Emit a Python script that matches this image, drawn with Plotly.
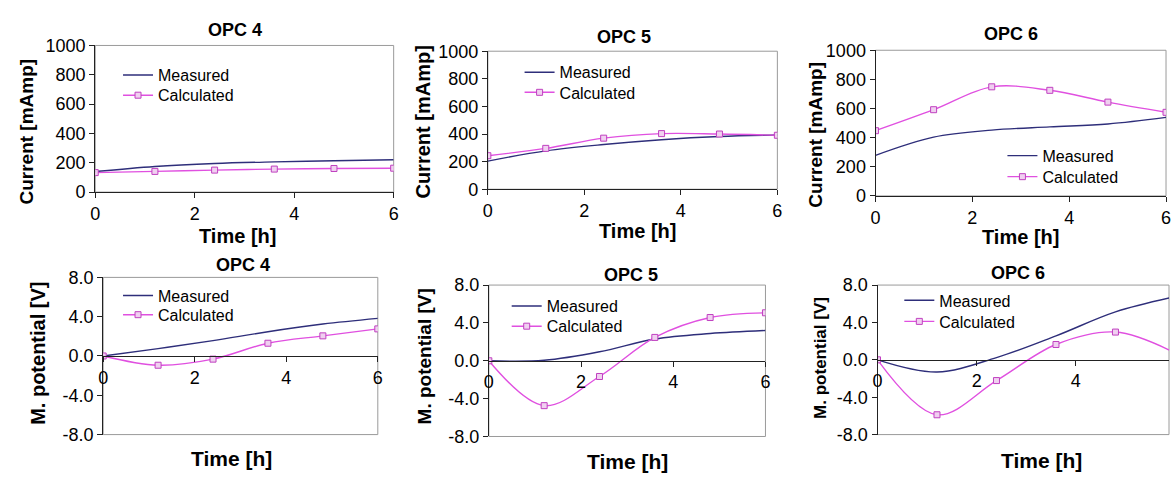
import plotly.graph_objects as go

W, H = 1174, 481

time_h = [0, 1.2, 2.4, 3.6, 4.8, 6]

# Current [mAmp]
opc4_cur_meas = [140, 175, 195, 206, 214, 221]
opc4_cur_calc = [133, 141, 150, 157, 161, 163]
opc5_cur_meas = [204, 278, 324, 359, 382, 393]
opc5_cur_calc = [243, 296, 370, 403, 400, 391]
opc6_cur_meas = [279, 404, 452, 474, 494, 539]
opc6_cur_calc = [448, 592, 749, 725, 644, 574]

# Membrane potential [V]
opc4_pot_meas = [0.0, 0.75, 1.56, 2.47, 3.25, 3.83]
opc4_pot_calc = [0.0, -0.94, -0.32, 1.30, 2.05, 2.76]
opc5_pot_meas = [0.0, 0.05, 0.95, 2.30, 2.88, 3.20]
opc5_pot_calc = [0.0, -4.74, -1.66, 2.47, 4.57, 5.07]
opc6_pot_meas = [0.0, -1.30, 0.24, 2.56, 5.13, 6.75]
opc6_pot_calc = [0.0, -5.88, -2.22, 1.64, 2.97, 0.75]

titles = ["OPC 4", "OPC 5", "OPC 6", "OPC 4", "OPC 5", "OPC 6"]
series_names = ["Measured", "Calculated"]
cur_ticks = [0, 200, 400, 600, 800, 1000]
pot_ticks = [-8, -4, 0, 4, 8]
x_ticks = [0, 2, 4, 6]

MEAS_C = "#2e2e7a"
CALC_C = "#e050e0"
FONT = "Liberation Sans, Arial, sans-serif"


def px(x):
    return x / W


def py(y):
    return 1 - y / H


# panel geometry in page pixels: (x0, x1, ytop, ybottom)
panels = [
    (91, 392, 37, 190),
    (487, 779, 43, 187),
    (878, 1171, 42, 194),
    (99, 376, 279, 443),
    (488, 767, 287, 445),
    (880, 1174, 287, 443),
]
xranges = [[0, 6], [0, 6], [0, 6], [0, 6], [0, 6], [0, (1174 - 880) / 50.0]]

meas = [opc4_cur_meas, opc5_cur_meas, opc6_cur_meas, opc4_pot_meas, opc5_pot_meas, opc6_pot_meas]
calc = [opc4_cur_calc, opc5_cur_calc, opc6_cur_calc, opc4_pot_calc, opc5_pot_calc, opc6_pot_calc]

title_pos = [(232, 21), (624, 28), (1015, 25), (240, 266), (631, 276), (1022, 274)]
xtitle_pos = [(235, 236, 20), (638, 231, 20), (1024, 237, 20), (228, 468, 21), (628, 471, 21), (1045, 470, 21)]
ytitle_pos = [(22, 127, 19), (422, 117, 20), (818, 130, 19), (33, 358, 20), (424, 361, 19), (823, 363, 17)]
# legend: (text start x, measured row y, calculated row y)
legend_pos = [(160, 71, 92), (565, 68, 89), (1052, 155, 177),
              (160, 301, 321), (552, 312, 333), (948, 306, 328)]

fig = go.Figure()
layout = dict(
    width=W, height=H, autosize=False,
    margin=dict(l=0, r=0, t=0, b=0),
    paper_bgcolor="white", plot_bgcolor="white",
    font=dict(family=FONT, size=16, color="black"),
    annotations=[], shapes=[],
)

for i in range(6):
    n = i + 1
    xa = "x" if n == 1 else f"x{n}"
    ya = "y" if n == 1 else f"y{n}"
    lg_m = "legend" if i == 0 else f"legend{2 * i + 1}"
    lg_c = f"legend{2 * i + 2}"
    x0, x1, yt, yb = panels[i]
    fig.add_trace(go.Scatter(
        x=time_h, y=meas[i], name=series_names[0], mode="lines",
        line=dict(color=MEAS_C, width=1.4, shape="spline"),
        xaxis=xa, yaxis=ya, legend=lg_m, showlegend=True,
    ))
    fig.add_trace(go.Scatter(
        x=time_h, y=calc[i], name=series_names[1], mode="lines+markers",
        line=dict(color=CALC_C, width=1.4, shape="spline"),
        marker=dict(symbol="square", size=6, color="#f0d0f0",
                    line=dict(color="#c040c0", width=1)),
        xaxis=xa, yaxis=ya, legend=lg_c, showlegend=True,
    ))
    top_row = i < 3
    xkey = "xaxis" if n == 1 else f"xaxis{n}"
    ykey = "yaxis" if n == 1 else f"yaxis{n}"
    xaxis = dict(
        domain=[px(x0), min(1.0, px(x1))], range=xranges[i],
        tickvals=x_ticks, ticks="outside", ticklen=5, tickcolor="#222",
        showline=True, linecolor="#222", linewidth=1,
        showgrid=False, zeroline=False, fixedrange=True,
        tickfont=dict(family=FONT, size=18, color="black"),
    )
    if top_row:
        xaxis["anchor"] = ya
    else:
        xaxis["anchor"] = "free"
        xaxis["position"] = py((yt + yb) / 2.0)
    yaxis = dict(
        domain=[py(yb), py(yt)], anchor=xa,
        ticks="outside", ticklen=5, tickcolor="#222",
        showline=True, linecolor="#222", linewidth=1,
        showgrid=False, zeroline=False, fixedrange=True,
        tickfont=dict(family=FONT, size=18, color="black"),
    )
    if top_row:
        yaxis.update(range=[0, 1000], tickvals=cur_ticks)
    else:
        yaxis.update(range=[-8, 8], tickvals=pot_ticks,
                     ticktext=[f"{v:.1f}" for v in pot_ticks])
    layout[xkey] = xaxis
    layout[ykey] = yaxis

    # plot area border (gray)
    layout["shapes"].append(dict(
        type="rect", xref=f"{xa} domain", yref=f"{ya} domain",
        x0=0, x1=1, y0=0, y1=1, line=dict(color="#9a9a9a", width=1),
        layer="below",
    ))

    # legends (one per row so the row spacing matches)
    tx0, ym, yc = legend_pos[i]
    for lg, yrow in ((lg_m, ym), (lg_c, yc)):
        layout[lg] = dict(
            x=px(tx0 - 46), y=py(yrow - 3), xanchor="left", yanchor="middle",
            xref="paper", yref="paper",
            bgcolor="rgba(0,0,0,0)", borderwidth=0,
            font=dict(family=FONT, size=16, color="black"),
            itemwidth=30,
        )

    # panel title
    tx, ty = title_pos[i]
    layout["annotations"].append(dict(
        text="<b>%s</b>" % titles[i], x=px(tx), y=py(ty), xref="paper", yref="paper",
        showarrow=False, xanchor="center", yanchor="middle",
        font=dict(family=FONT, size=18, color="black"),
    ))
    # x title
    ax_, ay_, afs = xtitle_pos[i]
    layout["annotations"].append(dict(
        text="<b>Time [h]</b>", x=px(ax_), y=py(ay_), xref="paper", yref="paper",
        showarrow=False, xanchor="center", yanchor="middle",
        font=dict(family=FONT, size=afs, color="black"),
    ))
    # y title
    yx, yy, fs = ytitle_pos[i]
    layout["annotations"].append(dict(
        text="<b>%s</b>" % ("Current [mAmp]" if top_row else "M. potential [V]"),
        x=px(yx), y=py(yy), xref="paper", yref="paper", textangle=-90,
        showarrow=False, xanchor="center", yanchor="middle",
        font=dict(family=FONT, size=fs, color="black"),
    ))

fig.update_layout(**layout)
fig.write_html("out.html", config={"displayModeBar": False},
               post_script="document.body.style.margin='0px';")
